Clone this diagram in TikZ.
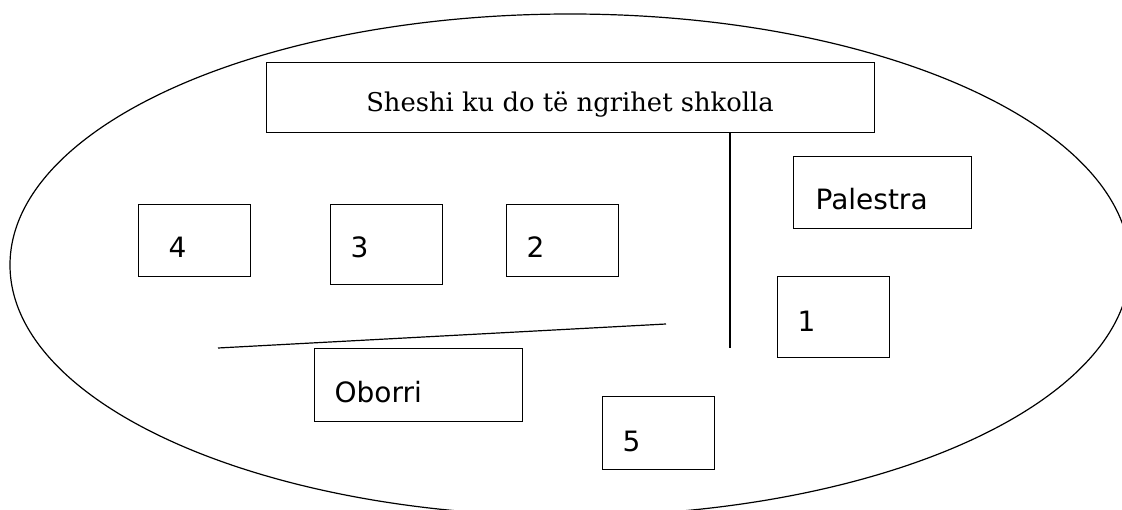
\documentclass[tikz,border=0pt]{standalone}
\usepackage{fontspec}
\newfontfamily\lblfont{DejaVu Sans}
\newfontfamily\ttlfont{DejaVu Serif}
\begin{document}
\begin{tikzpicture}[x=1pt,y=-1pt,line width=1.2pt,
  box/.style={draw,rectangle,inner sep=0pt,anchor=north west},
  lbl/.style={inner sep=0pt,anchor=base west,font=\lblfont\fontsize{28}{32}\selectfont},
  ttl/.style={inner sep=0pt,anchor=base,font=\ttlfont\fontsize{25.8}{30}\selectfont}]
\useasboundingbox (0,0) rectangle (1122,510);
\clip (0,0) rectangle (1122,510);
\draw (570,265) ellipse [x radius=560, y radius=251];
% title box
\node[box,minimum width=608pt,minimum height=70pt] (title) at (266,62) {};
\node[ttl] (titletxt) at (570,112) {Sheshi ku do të ngrihet shkolla};
% boxes
\node[box,minimum width=178pt,minimum height=72pt] (pal) at (793,156) {};
\node[lbl] (paltxt) at (815,210) {Palestra};
\node[box,minimum width=112pt,minimum height=72pt] (b4) at (138,204) {};
\node[lbl] (t4) at (168,258) {4};
\node[box,minimum width=112pt,minimum height=80pt] (b3) at (330,204) {};
\node[lbl] (t3) at (350,258) {3};
\node[box,minimum width=112pt,minimum height=72pt] (b2) at (506,204) {};
\node[lbl] (t2) at (526,258) {2};
\node[box,minimum width=112pt,minimum height=81pt] (b1) at (777,276) {};
\node[lbl] (t1) at (797,332) {1};
\node[box,minimum width=208pt,minimum height=73pt] (ob) at (314,348) {};
\node[lbl] (obtxt) at (334,403) {Oborri};
\node[box,minimum width=112pt,minimum height=73pt] (b5) at (602,396) {};
\node[lbl] (t5) at (622,452) {5};
% lines
\coordinate (vend) at (730,348);
\draw (title.south -| vend) -- (vend);
\coordinate (ha) at (218,348);
\coordinate (hb) at (666,324);
\draw (ha) -- (hb);
\end{tikzpicture}
\end{document}
